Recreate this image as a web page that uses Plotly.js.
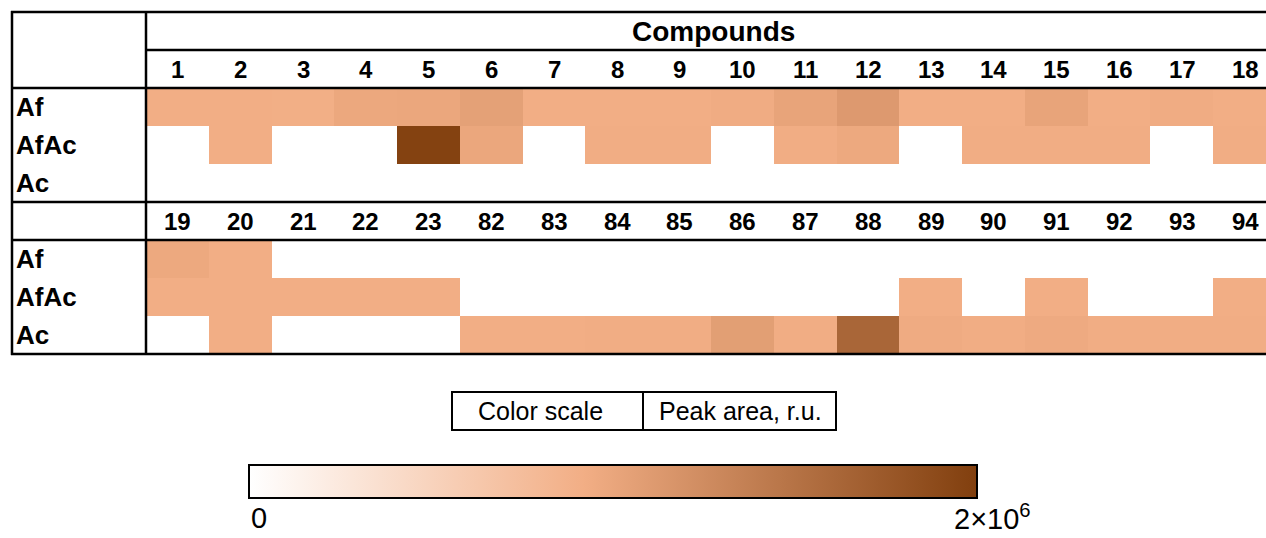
<!DOCTYPE html>
<html>
<head>
<meta charset="utf-8">
<script src="https://cdn.plot.ly/plotly-3.0.1.min.js"></script>
<style>html,body{margin:0;padding:0;background:#fff;}#chart{width:1266px;height:538px;}</style>
</head>
<body>
<div id="chart"></div>
<script>
// ---- data ----
var rowLabels = ['Af', 'AfAc', 'Ac'];
var compounds1 = ['1','2','3','4','5','6','7','8','9','10','11','12','13','14','15','16','17','18'];
var compounds2 = ['19','20','21','22','23','82','83','84','85','86','87','88','89','90','91','92','93','94'];
// peak areas, r.u.
var af1   = [0.92e6,0.92e6,0.91e6,0.98e6,0.99e6,1.05e6,0.92e6,0.92e6,0.92e6,0.94e6,1.02e6,1.12e6,0.92e6,0.92e6,1.02e6,0.92e6,0.94e6,0.92e6];
var afac1 = [0,0.92e6,0,0,1.97e6,0.99e6,0,0.93e6,0.93e6,0,0.93e6,0.97e6,0,0.93e6,0.93e6,0.93e6,0,0.93e6];
var ac1   = [0,0,0,0,0,0,0,0,0,0,0,0,0,0,0,0,0,0];
var af2   = [0.97e6,0.92e6,0,0,0,0,0,0,0,0,0,0,0,0,0,0,0,0];
var afac2 = [0.92e6,0.92e6,0.92e6,0.92e6,0.92e6,0,0,0,0,0,0,0,0.92e6,0,0.92e6,0,0,0.92e6];
var ac2   = [0,0.92e6,0,0,0,0.92e6,0.92e6,0.93e6,0.93e6,1.07e6,0.93e6,1.62e6,0.95e6,0.93e6,0.96e6,0.93e6,0.93e6,0.93e6];
var scaleMin = 0, scaleMax = 2e6;
var scaleLabels = ['0', '2×10<sup>6</sup>'];

// ---- geometry helpers (pixel -> paper) ----
var L = 146, R = 1266, T = 12, B = 354;
function px(x){ return (x - L) / (R - L); }
function py(y){ return (B - y) / (B - T); }

var idx = compounds1.map(function(_, i){ return i; });
var FONT = 'Liberation Sans, Arial, sans-serif';

var traces = [
  {type:'heatmap', x: idx, y:[2,3,4], z:[af1, afac1, ac1], coloraxis:'coloraxis', hoverinfo:'skip'},
  {type:'heatmap', x: idx, y:[6,7,8], z:[af2, afac2, ac2], coloraxis:'coloraxis', hoverinfo:'skip'}
];

var ann = [];
ann.push({xref:'paper', yref:'y', x:px(713), y:0, text:'<b>Compounds</b>', showarrow:false,
  font:{family:FONT, size:28, color:'#000'}, xanchor:'center', yanchor:'middle'});
compounds1.forEach(function(c, i){
  ann.push({xref:'x', yref:'y', x:i, y:1, text:'<b>'+c+'</b>', showarrow:false,
    font:{family:FONT, size:24, color:'#000'}, xanchor:'center', yanchor:'middle'});
});
compounds2.forEach(function(c, i){
  ann.push({xref:'x', yref:'y', x:i, y:5, text:'<b>'+c+'</b>', showarrow:false,
    font:{family:FONT, size:24, color:'#000'}, xanchor:'center', yanchor:'middle'});
});
[[2,3,4],[6,7,8]].forEach(function(rows){
  rows.forEach(function(r, k){
    ann.push({xref:'paper', yref:'y', x:px(14), y:r, text:'<b>'+rowLabels[k]+'</b>', showarrow:false,
      font:{family:FONT, size:26, color:'#000'}, xanchor:'left', yanchor:'middle'});
  });
});
// colour scale legend box text
ann.push({xref:'paper', yref:'paper', x:px(540), y:py(411), text:'Color scale', showarrow:false,
  font:{family:FONT, size:25, color:'#000'}, xanchor:'center', yanchor:'middle'});
ann.push({xref:'paper', yref:'paper', x:px(740), y:py(411), text:'Peak area, r.u.', showarrow:false,
  font:{family:FONT, size:25, color:'#000'}, xanchor:'center', yanchor:'middle'});
ann.push({xref:'paper', yref:'paper', x:px(259), y:py(518), text:scaleLabels[0], showarrow:false,
  font:{family:FONT, size:29, color:'#000'}, xanchor:'center', yanchor:'middle'});
ann.push({xref:'paper', yref:'paper', x:px(992), y:py(517), text:scaleLabels[1], showarrow:false,
  font:{family:FONT, size:29, color:'#000'}, xanchor:'center', yanchor:'middle'});

var shapes = [];
function hline(y, x0, x1){ shapes.push({type:'line', xref:'paper', yref:'paper', x0:px(x0), x1:px(x1), y0:py(y), y1:py(y), line:{color:'#000', width:2.5}}); }
function vline(x, y0, y1){ shapes.push({type:'line', xref:'paper', yref:'paper', x0:px(x), x1:px(x), y0:py(y0), y1:py(y1), line:{color:'#000', width:2.5}}); }
hline(12, 11, 1270);
hline(50, 146, 1270);
hline(88, 11, 1270);
hline(202, 11, 1270);
hline(240, 11, 1270);
hline(354, 11, 1270);
vline(12, 11, 355);
vline(146, 11, 355);
// legend box
shapes.push({type:'rect', xref:'paper', yref:'paper', x0:px(452), x1:px(836), y0:py(392), y1:py(430), line:{color:'#000', width:2}});
shapes.push({type:'line', xref:'paper', yref:'paper', x0:px(643), x1:px(643), y0:py(392), y1:py(430), line:{color:'#000', width:2}});

var layout = {
  width:1266, height:538,
  margin:{l:L, r:1266-R, t:T, b:538-B, pad:0},
  paper_bgcolor:'#fff', plot_bgcolor:'#fff',
  showlegend:false,
  xaxis:{range:[-0.5, -0.5 + (R-L)/62.8], showgrid:false, zeroline:false, showticklabels:false, ticks:'', fixedrange:true},
  yaxis:{range:[8.5, -0.5], showgrid:false, zeroline:false, showticklabels:false, ticks:'', fixedrange:true},
  coloraxis:{
    cmin:scaleMin, cmax:scaleMax,
    colorscale:[[0,'#FFFFFF'],[0.46,'#F2AE85'],[1,'#813F0E']],
    colorbar:{orientation:'h', x:px(613), xanchor:'center', y:py(465), yanchor:'top',
      thickness:33, thicknessmode:'pixels', len:728, lenmode:'pixels', xpad:0, ypad:0,
      outlinewidth:2, outlinecolor:'#000', showticklabels:false, ticks:''}
  },
  annotations:ann,
  shapes:shapes
};
Plotly.newPlot('chart', traces, layout, {staticPlot:true, displayModeBar:false});
</script>
</body>
</html>
